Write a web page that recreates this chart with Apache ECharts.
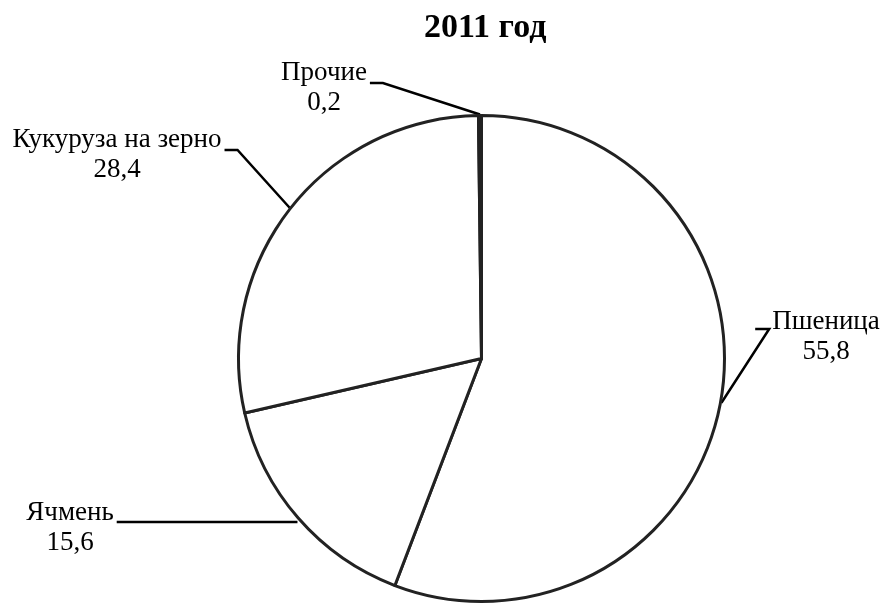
<!DOCTYPE html>
<html>
<head>
<meta charset="utf-8">
<script src="https://cdn.jsdelivr.net/npm/echarts@6/dist/echarts.min.js"></script>
<style>
html,body{margin:0;padding:0;background:#fff;}
#chart{width:882px;height:604px;}
</style>
</head>
<body>
<div id="chart"></div>
<script>
// Data
const titleText = '2011 год';
const categories = ['Пшеница', 'Ячмень', 'Кукуруза на зерно', 'Прочие'];
const values = [55.8, 15.6, 28.4, 0.2];

// Layout config (positions of the label blocks)
const CX = 481.5, CY = 358.5, R = 243;
const FONT = '"Liberation Serif", "Times New Roman", serif';
const labelCfg = [
  { x: 826, y: 337, lineY: 329, side: 'left',  elbow: 14, straight: false },
  { x: 70,  y: 528, lineY: 522, side: 'right', elbow: 0,  straight: true },
  { x: 117, y: 155, lineY: 150, side: 'right', elbow: 13, straight: false },
  { x: 324, y: 88,  lineY: 83,  side: 'right', elbow: 13, straight: false }
];

const total = values.reduce((a, b) => a + b, 0);
function edgePoint(i) {
  let before = 0;
  for (let k = 0; k < i; k++) before += values[k];
  const mid = (before + values[i] / 2) / total * 2 * Math.PI; // clockwise from top
  const rr = R + 1;
  return [CX + rr * Math.sin(mid), CY - rr * Math.cos(mid)];
}

const chart = echarts.init(document.getElementById('chart'), null, { renderer: 'canvas' });
chart.setOption({
  animation: false,
  backgroundColor: '#fff',
  title: {
    text: titleText,
    left: 419,
    top: 6,
    textStyle: { fontFamily: FONT, fontSize: 34, fontWeight: 'bold', color: '#000' }
  },
  series: [{
    type: 'pie',
    center: [CX, CY],
    radius: R,
    startAngle: 90,
    clockwise: true,
    avoidLabelOverlap: false,
    itemStyle: { color: '#fff', borderColor: '#222', borderWidth: 3 },
    label: {
      show: true,
      position: 'outside',
      color: '#000',
      fontFamily: FONT,
      fontSize: 27,
      lineHeight: 30,
      align: 'center',
      formatter: p => p.name + '\n' + p.value.toFixed(1).replace('.', ',')
    },
    labelLine: { show: true, length: 10, length2: 10, smooth: false,
      lineStyle: { color: '#000', width: 2.5 } },
    labelLayout: function (params) {
      const i = params.dataIndex;
      const c = labelCfg[i];
      const w = params.labelRect.width;
      const e = edgePoint(i);
      const textX = c.side === 'right' ? c.x + w / 2 + 3 : c.x - w / 2 - 3;
      let pts;
      if (c.straight) {
        pts = [[e[0], c.lineY], [textX, c.lineY], [textX, c.lineY]];
      } else {
        const elbowX = c.side === 'right' ? textX + c.elbow : textX - c.elbow;
        pts = c.side === 'right'
          ? [e, [elbowX, c.lineY], [textX, c.lineY]]
          : [e, [textX, c.lineY], [elbowX, c.lineY]];
      }
      return {
        x: c.x, y: c.y, align: 'center', verticalAlign: 'middle',
        labelLinePoints: pts
      };
    },
    data: categories.map((n, i) => ({ name: n, value: values[i] }))
  }]
});
</script>
</body>
</html>
